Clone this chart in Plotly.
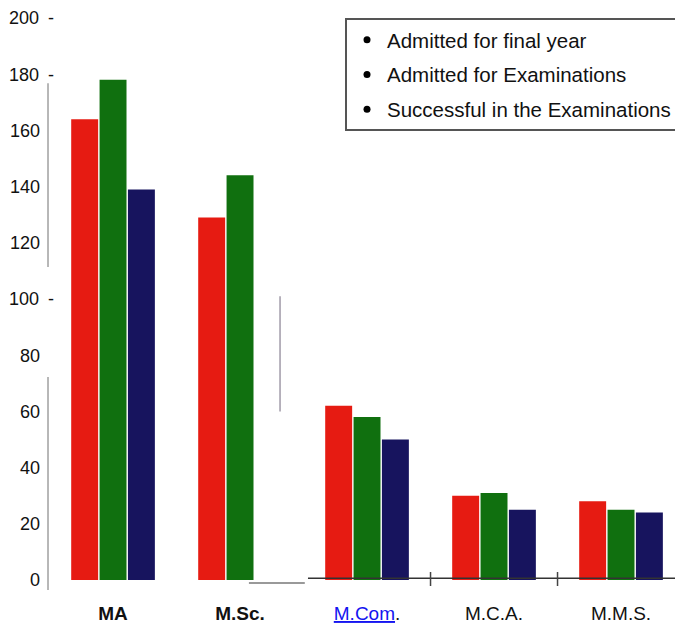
import plotly.graph_objects as go

categories = ["MA", "M.Sc.", "M.Com.", "M.C.A.", "M.M.S."]
tick_labels = ["<b>MA</b>", "<b>M.Sc.</b>",
               "<span style='color:#1414f0;text-decoration:underline'>M.Com</span>.",
               "M.C.A.", "M.M.S."]
series_names = ["Admitted for final year", "Admitted for Examinations",
                "Successful in the Examinations"]
admitted_final = [164, 129, 62, 30, 28]
admitted_exam = [178, 144, 58, 31, 25]
successful = [139, None, 50, 25, 24]
series_values = [admitted_final, admitted_exam, successful]
series_colors = ["#e61b12", "#10700f", "#17145e"]

y_tick_vals = [0, 20, 40, 60, 80, 100, 120, 140, 160, 180, 200]
y_tick_text = ["0", "20", "40", "60", "80", "100 -", "120", "140", "160", "180 -", "200 -"]

def pad(t):
    if t.endswith(" -"):
        return t[:-2] + "\u2002-"
    return t + "\u2002\u00a0"

fig = go.Figure()
for name, vals, col in zip(series_names, series_values, series_colors):
    fig.add_trace(go.Bar(x=categories, y=vals, name=name, marker_color=col,
                         marker_line_width=0, legendgroup=name, showlegend=False))
for name in series_names:
    fig.add_trace(go.Scatter(x=[None], y=[None], mode="markers", name=name,
                             legendgroup=name,
                             marker=dict(color="black", size=7, symbol="circle")))

font_family = "Liberation Sans, Arial, sans-serif"
fig.update_layout(
    width=683, height=628,
    margin=dict(l=47, r=0, t=10, b=56, autoexpand=False),
    paper_bgcolor="white", plot_bgcolor="white",
    font=dict(family=font_family, size=18, color="#111"),
    barmode="group", bargap=0.33, bargroupgap=0.05,
    showlegend=True,
    legend=dict(x=0.456, y=1.0, xanchor="left", yanchor="top",
                bgcolor="white", bordercolor="#555", borderwidth=2,
                font=dict(size=20.5, color="#111"), tracegroupgap=5,
                traceorder="grouped"),
    xaxis=dict(range=[-0.457, 4.551], tickmode="array", tickvals=categories,
               ticktext=tick_labels, showgrid=False, zeroline=False,
               showline=False, ticks="", ticklabelstandoff=20, automargin=False,
               tickfont=dict(size=19, color="#111")),
    yaxis=dict(range=[0, 200], tickmode="array", tickvals=y_tick_vals,
               ticktext=[pad(t) for t in y_tick_text], showgrid=False,
               zeroline=False, showline=False, ticks="", automargin=False,
               ticklabeloverflow="allow",
               tickfont=dict(size=18, color="#111")),
)

shapes = [
    # faint vertical strokes on the left
    dict(type="line", xref="paper", yref="paper", x0=-0.011, x1=-0.011, y0=0.557, y1=0.884,
         line=dict(color="#a0a0a0", width=1.5)),
    dict(type="line", xref="paper", yref="paper", x0=-0.011, x1=-0.011, y0=-0.0178, y1=0.361,
         line=dict(color="#a0a0a0", width=1.5)),
    # vertical stroke between M.Sc. and M.Com.
    dict(type="line", xref="x", yref="y", x0=1.315, x1=1.315, y0=60, y1=101,
         line=dict(color="#a09aa8", width=1.5)),
    # short horizontal line under the M.Sc. group
    dict(type="line", xref="x", yref="paper", x0=1.07, x1=1.51, y0=-0.0053, y1=-0.0053,
         line=dict(color="#777", width=1.5)),
    # axis line on the right part
    dict(type="line", xref="x", yref="y", x0=1.535, x1=4.551, y0=0.6, y1=0.6,
         line=dict(color="#333", width=1.5)),
    dict(type="line", xref="x", yref="paper", x0=2.5, x1=2.5, y0=-0.0107, y1=0.0142,
         line=dict(color="#444", width=1.5)),
    dict(type="line", xref="x", yref="paper", x0=3.5, x1=3.5, y0=-0.0107, y1=0.0142,
         line=dict(color="#444", width=1.5)),
]
fig.update_layout(shapes=shapes)

fig.write_html("out.html")
